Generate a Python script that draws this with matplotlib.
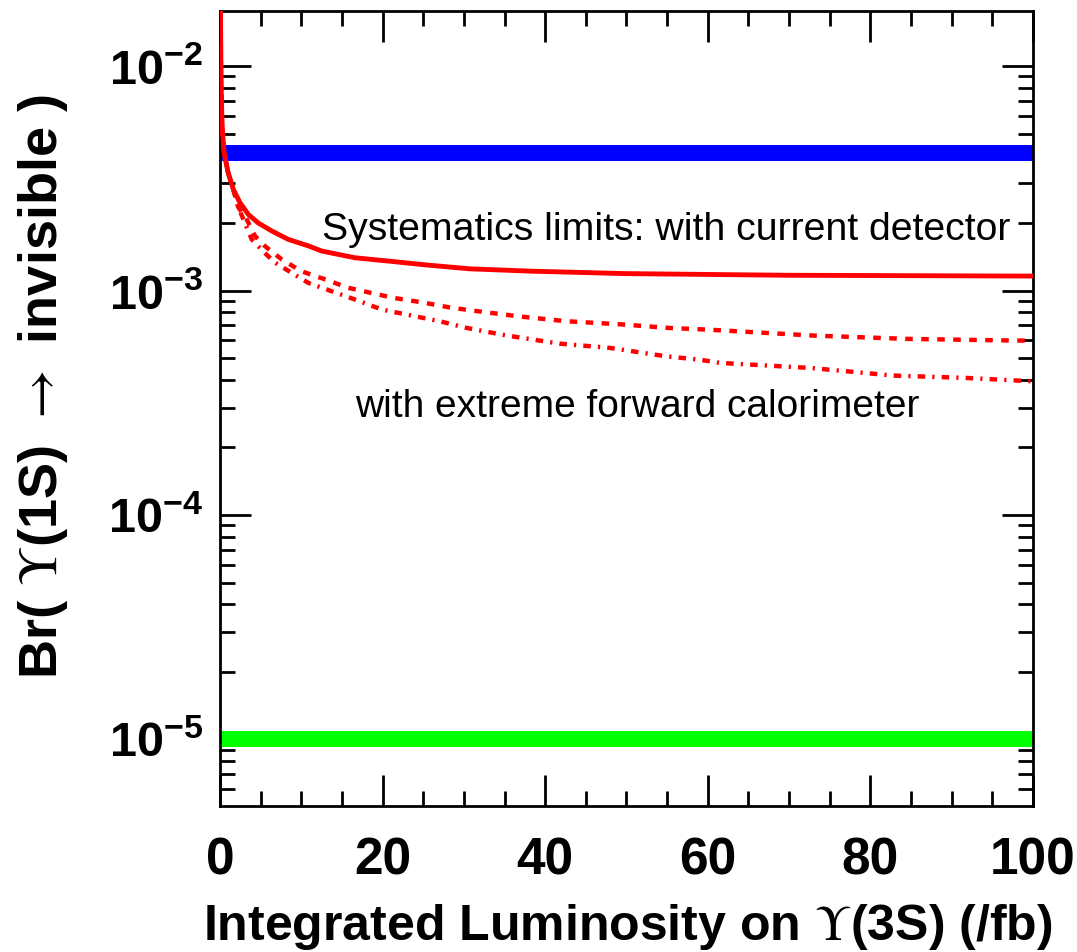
import matplotlib
matplotlib.use('Agg')
import matplotlib.pyplot as plt
from matplotlib.ticker import MultipleLocator, LogLocator, NullFormatter

plt.rcParams['font.family'] = ['Liberation Sans', 'DejaVu Sans']
plt.rcParams['mathtext.fontset'] = 'custom'
plt.rcParams['mathtext.rm'] = 'Liberation Sans'
plt.rcParams['mathtext.bf'] = 'Liberation Sans:bold'
plt.rcParams['mathtext.cal'] = 'STIXGeneral'

# current detector, systematics limit
lum_solid = [0, 0.12, 0.25, 0.5, 1.0, 1.64, 2.46, 3.5, 4.7, 6.4, 8.4, 10.9,
             12.5, 16.6, 21, 25.4, 30.7, 38.3, 49.8, 69.5, 100]
br_solid = [3e-2, 8.8e-3, 5.4e-3, 4.11e-3, 3.35e-3, 2.82e-3, 2.46e-3, 2.18e-3,
            2.0e-3, 1.84e-3, 1.69e-3, 1.58e-3, 1.5e-3, 1.4e-3, 1.35e-3,
            1.3e-3, 1.25e-3, 1.22e-3, 1.19e-3, 1.17e-3, 1.16e-3]

# extreme forward calorimeter, two variants
lum_dash = [0, 0.12, 0.25, 0.5, 1.0, 1.64, 2.25, 3.3, 4.3, 5.5, 7.6, 10,
            11.7, 13, 15.7, 21.3, 25, 28.3, 31.7, 36.9, 42.6, 49.6, 55, 59.9,
            73, 84.5, 96, 100]
br_dash = [3e-2, 8.8e-3, 5.4e-3, 4.11e-3, 3.35e-3, 2.82e-3, 2.35e-3, 2.07e-3,
           1.75e-3, 1.58e-3, 1.375e-3, 1.22e-3, 1.16e-3, 1.12e-3, 1.03e-3,
           9.28e-4, 8.84e-4, 8.40e-4, 8.09e-4, 7.66e-4, 7.30e-4, 7.06e-4,
           6.82e-4, 6.70e-4, 6.30e-4, 6.09e-4, 6.00e-4, 5.98e-4]

lum_dashdot = [0, 0.12, 0.25, 0.5, 1.0, 1.64, 2.25, 3.9, 5.5, 6.8, 8.8, 10.9,
               16.6, 19.9, 27, 30.3, 35.3, 41.8, 48, 54.9, 59, 61.5, 72.6,
               82.8, 91.8, 100]
br_dashdot = [3e-2, 8.8e-3, 5.4e-3, 4.11e-3, 3.35e-3, 2.82e-3, 2.35e-3,
              1.69e-3, 1.47e-3, 1.33e-3, 1.2e-3, 1.08e-3, 9.12e-4, 8.23e-4,
              7.30e-4, 6.82e-4, 6.30e-4, 5.80e-4, 5.55e-4, 5.09e-4, 4.92e-4,
              4.76e-4, 4.52e-4, 4.18e-4, 4.08e-4, 3.94e-4]

br_blue = 4.1e-3
br_green = 1.0e-5

ytick_vals = [1e-5, 1e-4, 1e-3, 1e-2]
ytick_text = [r'$\mathbf{10^{-5}}$', r'$\mathbf{10^{-4}}$',
              r'$\mathbf{10^{-3}}$', r'$\mathbf{10^{-2}}$']

fig = plt.figure(figsize=(10.77, 9.52), dpi=100)
ax = fig.add_axes([0.2043, 0.1534, 0.7548, 0.835])

ax.axhline(br_blue, color='#0000ff', lw=11.5, zorder=2)
ax.axhline(br_green, color='#00ff00', lw=11.5, zorder=2)

ax.plot(lum_solid, br_solid, color='#ff0000', lw=3.5, zorder=3)
ax.plot(lum_dash, br_dash, color='#ff0000', lw=3.2, dashes=(1.7, 1.9), zorder=3)
ax.plot(lum_dashdot, br_dashdot, color='#ff0000', lw=3.2,
        dashes=(1.7, 1.6, 0.5, 1.6), zorder=3)

ax.set_yscale('log')
ax.set_xlim(0, 100)
ax.set_ylim(5.05e-6, 0.0176)

ax.xaxis.set_major_locator(MultipleLocator(20))
ax.xaxis.set_minor_locator(MultipleLocator(5))
ax.set_yticks(ytick_vals)
ax.set_yticklabels(ytick_text)
ax.yaxis.set_minor_locator(LogLocator(base=10, subs=range(2, 10)))
ax.yaxis.set_minor_formatter(NullFormatter())

ax.tick_params(which='both', direction='in', top=True, right=True,
               width=2, colors='black')
ax.tick_params(which='major', length=22)
ax.tick_params(which='minor', length=11)
ax.tick_params(axis='x', which='major', labelsize=37, pad=22)
ax.tick_params(axis='y', which='major', labelsize=35, pad=12)
for lab in ax.get_xticklabels():
    lab.set_fontweight('bold')
for sp in ax.spines.values():
    sp.set_linewidth(2)

ax.set_xlabel(r'Integrated Luminosity on $\mathcal{\Upsilon}$(3S) (/fb)',
              fontsize=36, fontweight='bold')
ax.xaxis.set_label_coords(0.501, -0.121)
ax.set_ylabel(r'Br( $\mathcal{\Upsilon}$(1S) $\mathcal{\rightarrow}$ invisible )',
              fontsize=39, fontweight='bold')
ax.yaxis.set_label_coords(-0.184, 0.527)

ax.text(0.1255, 0.7245, 'Systematics limits: with current detector',
        transform=ax.transAxes, fontsize=28.3, va='center', ha='left')
ax.text(0.166, 0.502, 'with extreme forward calorimeter',
        transform=ax.transAxes, fontsize=28, va='center', ha='left')

fig.savefig('out.png', dpi=100)
